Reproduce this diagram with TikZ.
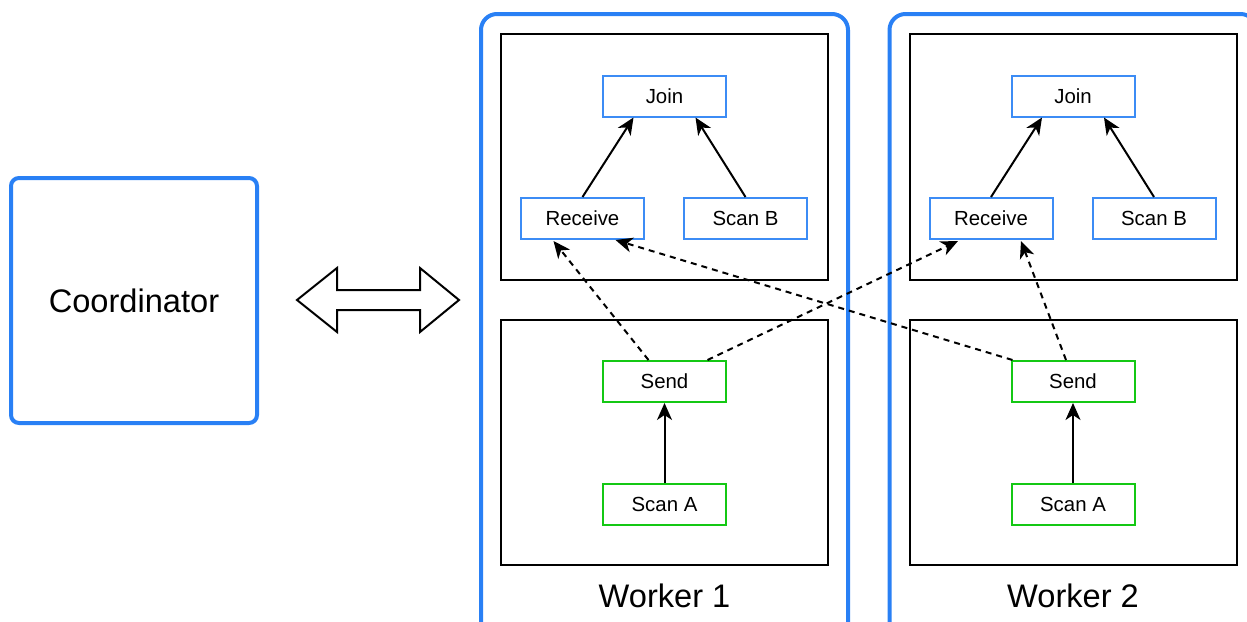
\documentclass[tikz,border=0pt]{standalone}
\usepackage{fontspec}
\setmainfont{Liberation Sans}
\usetikzlibrary{arrows.meta,calc}
\definecolor{bblue}{RGB}{41,128,245}
\definecolor{nblue}{RGB}{60,140,245}
\definecolor{ngreen}{RGB}{20,200,20}
\begin{document}
\begin{tikzpicture}[x=1pt,y=-1pt,
  opbox/.style={draw=nblue,line width=2pt,minimum width=123pt,minimum height=41pt,inner sep=0pt,font=\fontsize{20.4}{24}\selectfont},
  sendbox/.style={opbox,draw=ngreen},
  frame/.style={draw=black,line width=2pt},
  outer/.style={draw=bblue,line width=4pt,rounded corners=16pt},
  flow/.style={-{Stealth[length=17pt,width=15pt,inset=5pt]},line width=2pt},
  xfer/.style={flow,dash pattern=on 6pt off 5pt},
  big/.style={font=\fontsize{32.6}{38}\selectfont}]
\useasboundingbox (0,0) rectangle (1247,621);
\clip (0,0) rectangle (1247,621);
% coordinator
\node[outer,minimum width=246pt,minimum height=245pt,rounded corners=8pt,big,inner sep=0pt] (coord) at (134,300.5) {Coordinator};
% double arrow
\draw[line width=2pt,line join=miter,fill=white] (297,300) -- (337,268) -- (337,290) -- (420,290) -- (420,268) -- (459,300) -- (420,332) -- (420,310) -- (337,310) -- (337,332) -- cycle;
% workers
\foreach \dx/\n in {0/1,408.5/2}{
  \begin{scope}[xshift=\dx]
  \draw[outer] (481,14) rectangle (848,650);
  \draw[frame] (501,34) rectangle (828,280);
  \draw[frame] (501,320) rectangle (828,565);
  \node[big] (w\n) at (664.5,596) {Worker \n};
  \node[opbox] (join\n) at (664.5,96) {Join};
  \node[opbox] (recv\n) at (582.5,218.5) {Receive};
  \node[opbox] (scanb\n) at (745.5,218.5) {Scan B};
  \node[sendbox] (send\n) at (664.5,381.5) {Send};
  \node[sendbox] (scana\n) at (664.5,504.5) {Scan A};
  \end{scope}
}
\foreach \n in {1,2}{
  \draw[flow] (recv\n.north) -- ($(join\n.south)+(-31,0)$);
  \draw[flow] (scanb\n.north) -- ($(join\n.south)+(31,0)$);
  \draw[flow] (scana\n.north) -- (send\n.north |- send\n.south);
}
\draw[xfer] ($(send1.north)+(-16,0)$) -- ($(recv1.south)+(-29,1)$);
\draw[xfer] ($(send1.north)+(43,0)$) -- ($(recv2.south)+(-33,1)$);
\draw[xfer] ($(send2.north west)+(2,0)$) -- ($(recv1.south)+(33,0)$);
\draw[xfer] ($(send2.north)+(-7,0)$) -- ($(recv2.south)+(30,1)$);
\end{tikzpicture}
\end{document}
